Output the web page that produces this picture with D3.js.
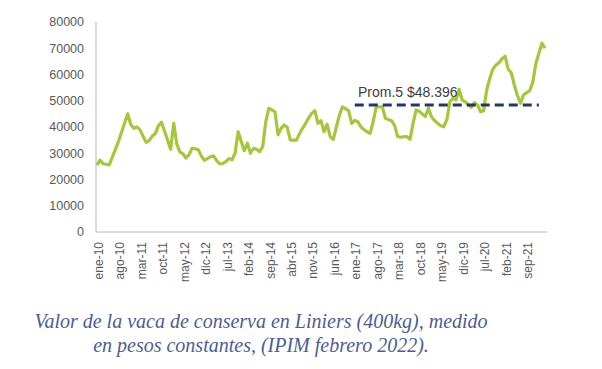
<!DOCTYPE html>
<html><head><meta charset="utf-8">
<script src="https://cdn.jsdelivr.net/npm/d3@7"></script>
<style>body{margin:0;background:#fff}svg{display:block}</style>
</head><body>
<svg id="c" width="602" height="369"></svg>
<script>
const monthNames = ["ene","feb","mar","abr","may","jun","jul","ago","sep","oct","nov","dic"];
const startYear = 2010;
const values = [
25500,27400,26000,25800,25600,28500,31500,34500,38000,41500,45000,41000,
39500,40000,39000,36500,34200,34800,36500,37500,40500,41800,38500,35000,
31500,41400,33500,30500,29800,28200,29500,31900,31700,31300,29000,27300,
28000,28700,29000,27200,26000,26100,26800,28000,27500,30000,38200,34500,
31000,33800,30000,31900,31500,30600,32500,42000,47100,46500,45800,37000,
39500,40800,39900,35000,35000,35000,37500,39500,41400,43500,45200,46200,
41400,42400,38200,41100,36300,35300,40000,44500,47700,47000,46200,41400,
42500,42000,40100,39000,38200,37600,42000,47700,47700,47700,43300,42800,
42400,40500,36300,36100,36300,36300,35300,41400,46500,46000,45000,44000,
47100,43900,42500,41400,40500,40100,42700,49600,50900,50300,54400,50300,
49600,48500,47500,49300,48400,45800,46200,54100,58500,62000,63600,64500,
66000,67000,62000,60700,56000,52000,49000,52200,53100,53800,57000,64000,
68100,71900,70000];
const categories = values.map((v,i)=> monthNames[i%12] + "-" + String((startYear + Math.floor(i/12))%100).padStart(2,"0"));
const tickLabels = ["ene-10","ago-10","mar-11","oct-11","may-12","dic-12","jul-13","feb-14","sep-14","abr-15","nov-15","jun-16","ene-17","ago-17","mar-18","oct-18","may-19","dic-19","jul-20","feb-21","sep-21"];
const yTicks = [0,10000,20000,30000,40000,50000,60000,70000,80000];
const avgValue = 48396;
const avgLabel = "Prom.5 $48.396";
const avgStart = "ene-17", avgEnd = "ene-22";
const captionLines = ["Valor de la vaca de conserva en Liniers (400kg), medido","en pesos constantes, (IPIM febrero 2022)."];

const svg = d3.select("#c");
const x = d3.scalePoint().domain(categories).range([97,545]);
const y = d3.scaleLinear().domain([0,80000]).range([232,22]);

// axes lines
svg.append("line").attr("x1",96).attr("x2",96).attr("y1",y(80000)).attr("y2",y(0)).attr("stroke","#c8c8c8").attr("stroke-width",1.3);
svg.append("line").attr("x1",96).attr("x2",547).attr("y1",y(0)).attr("y2",y(0)).attr("stroke","#d0d0d0").attr("stroke-width",1.3);

// y tick labels
svg.append("g").selectAll("text").data(yTicks).join("text")
  .attr("x",84).attr("y",d=>y(d)).attr("dy","0.35em").attr("text-anchor","end")
  .attr("font-family","Liberation Sans, Arial, sans-serif").attr("font-size",12.5).attr("fill","#595959")
  .text(d=>d);

// x tick labels
svg.append("g").selectAll("text").data(tickLabels).join("text")
  .attr("transform",d=>`translate(${x(d)+1.5},242) rotate(-90)`)
  .attr("dy","0.35em").attr("text-anchor","end")
  .attr("font-family","Liberation Sans, Arial, sans-serif").attr("font-size",12).attr("fill","#595959")
  .text(d=>d);

// data line
const line = d3.line().x((d,i)=>x(categories[i])).y(d=>y(d));
svg.append("path").datum(values).attr("d",line).attr("fill","none")
  .attr("stroke","#a5c73b").attr("stroke-width",3.2).attr("stroke-linejoin","round");

// average line
const endCat = categories.includes(avgEnd) ? avgEnd : categories[categories.length-1];
svg.append("line").attr("x1",x(avgStart)).attr("x2",x(endCat)).attr("y1",y(avgValue)).attr("y2",y(avgValue))
  .attr("stroke","#1f3864").attr("stroke-width",3).attr("stroke-dasharray","9,5");
svg.append("text").attr("x",358).attr("y",y(avgValue)-8)
  .attr("font-family","Liberation Sans, Arial, sans-serif").attr("font-size",14).attr("fill","#404040")
  .text(avgLabel);

// caption
svg.append("g").selectAll("text").data(captionLines).join("text")
  .attr("x",261).attr("y",(d,i)=>328+i*24).attr("text-anchor","middle")
  .attr("font-family","Liberation Serif, serif").attr("font-style","italic")
  .attr("font-size",20).attr("fill","#4b5d94")
  .text(d=>d);
</script>
</body></html>
